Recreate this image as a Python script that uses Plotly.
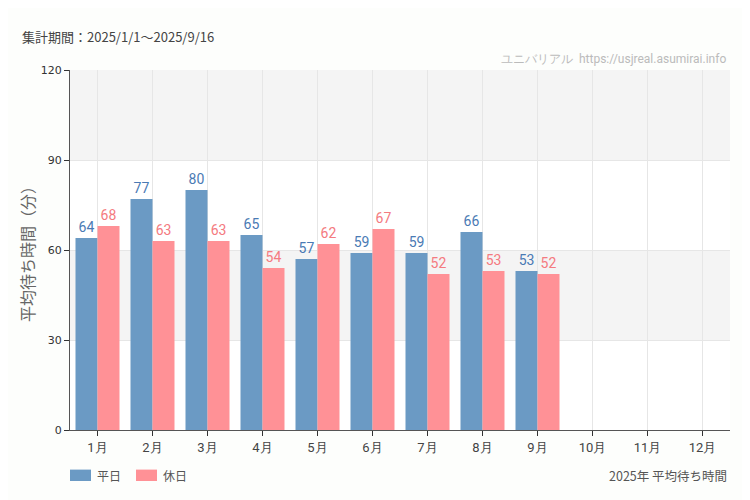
import plotly.graph_objects as go

months = ["1月", "2月", "3月", "4月", "5月", "6月", "7月", "8月", "9月", "10月", "11月", "12月"]
weekday = [64, 77, 80, 65, 57, 59, 59, 66, 53, None, None, None]
holiday = [68, 63, 63, 54, 62, 67, 52, 53, 52, None, None, None]
y_ticks = [0, 30, 60, 90, 120]
series_names = ["平日", "休日"]
series_colors = ["#6b9ac4", "#ff9196"]
label_colors = ["#4a7ab4", "#f47a80"]

narrow = "Roboto, sans-serif"
jp = "Noto Sans CJK JP, sans-serif"

fig = go.Figure()
for vals, name, col, lcol in zip([weekday, holiday], series_names, series_colors, label_colors):
    fig.add_trace(go.Bar(
        x=months, y=vals, name=name, marker_color=col, marker_line_width=0,
        text=[str(v) if v is not None else "" for v in vals], textposition="outside",
        textfont=dict(color=lcol, size=14, family=narrow), cliponaxis=False,
        showlegend=False,
    ))

shapes = []
for lo, hi in [(30, 60), (90, 120)]:
    shapes.append(dict(type="rect", xref="paper", yref="y", x0=0, x1=1, y0=lo, y1=hi,
                       fillcolor="#f4f4f4", line_width=0, layer="below"))

# custom legend (wide swatches)
annotations = []
legend_x = [0, 0.1]
for lx, name, col in zip(legend_x, series_names, series_colors):
    shapes.append(dict(type="rect", xref="paper", yref="paper", x0=lx, x1=lx + 0.0318,
                       y0=-0.1417, y1=-0.110, fillcolor=col, line_width=0))
    annotations.append(dict(text=name, xref="paper", yref="paper", x=lx + 0.038, y=-0.125,
                            xanchor="left", yanchor="middle", showarrow=False,
                            font=dict(family=jp, size=12, color="#555")))

annotations += [
    dict(text="集計期間：2025/1/1～2025/9/16", xref="paper", yref="paper",
         x=-0.076, y=1.092, xanchor="left", yanchor="middle", showarrow=False,
         font=dict(family=jp, size=13, color="#444")),
    dict(text="ユニバリアル  https://usjreal.asumirai.info", xref="paper", yref="paper",
         x=0.997, y=1.03, xanchor="right", yanchor="middle", showarrow=False,
         font=dict(family=narrow, size=12, color="#bbbbbb")),
    dict(text="2025年 平均待ち時間", xref="paper", yref="paper",
         x=0.998, y=-0.125, xanchor="right", yanchor="middle", showarrow=False,
         font=dict(family=jp, size=12.5, color="#555")),
]

# the page body adds an 8px offset, so margins compensate
fig.update_layout(
    width=750, height=500,
    margin=dict(l=62, r=28, t=62, b=78, autoexpand=False),
    paper_bgcolor="#fdfefc", plot_bgcolor="#ffffff",
    barmode="group", bargap=0.2, bargroupgap=0,
    shapes=shapes,
    showlegend=False,
    xaxis=dict(showgrid=True, gridcolor="#e6e6e6", ticks="outside", ticklen=5,
               tickcolor="#333", showline=True, linecolor="#555", linewidth=1,
               automargin=False,
               tickfont=dict(family=narrow, size=13, color="#444")),
    yaxis=dict(range=[0, 120], tickvals=y_ticks, showgrid=True, gridcolor="#e6e6e6",
               ticks="outside", ticklen=5, tickcolor="#333", showline=True,
               linecolor="#555", linewidth=1, zeroline=False, automargin=False,
               tickfont=dict(family="DejaVu Sans, sans-serif", size=11, color="#333"),
               title=dict(text="平均待ち時間（分）", font=dict(family=jp, size=16, color="#666"),
                          standoff=2)),
    annotations=annotations,
)

fig.write_html("out.html")
